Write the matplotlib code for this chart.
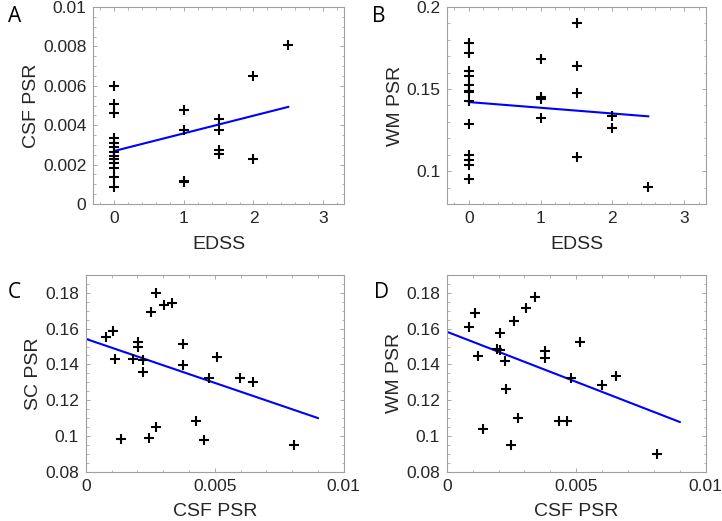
import matplotlib
matplotlib.use('Agg')
import matplotlib.pyplot as plt
from matplotlib.ticker import AutoMinorLocator, FuncFormatter

# panel A: CSF PSR vs EDSS
edss_a = [0]*13 + [1]*4 + [1.5]*4 + [2]*2 + [2.5]
csf_a = [0.0060, 0.0051, 0.00464, 0.00333, 0.00311, 0.00288, 0.00266, 0.00244,
         0.00227, 0.00207, 0.00184, 0.00139, 0.00085,
         0.00476, 0.00378, 0.00118, 0.00113,
         0.00432, 0.00378, 0.00274, 0.00253,
         0.0065, 0.00226,
         0.00806]
fit_a_x = [0, 2.5]
fit_a_y = [0.00269, 0.00493]

# panel B: WM PSR vs EDSS
edss_b = [0]*13 + [1]*4 + [1.5]*4 + [2]*2 + [2.5]
wm_b = [0.178, 0.172, 0.161, 0.158, 0.1526, 0.149, 0.1482, 0.1425,
        0.1288, 0.110, 0.107, 0.104, 0.095,
        0.1682, 0.1451, 0.1439, 0.1324,
        0.1904, 0.1641, 0.1476, 0.1089,
        0.1338, 0.1263,
        0.0903]
fit_b_x = [0, 2.5]
fit_b_y = [0.1421, 0.1334]

# panel C: SC PSR vs CSF PSR
csf_c = [0.00079, 0.00105, 0.00115, 0.00136, 0.00185, 0.00202, 0.00202, 0.00222,
         0.00222, 0.00244, 0.00252, 0.00271, 0.00271, 0.00304, 0.00335, 0.00379,
         0.00379, 0.00428, 0.00460, 0.00477, 0.00508, 0.00598, 0.00650, 0.00809]
sc_c = [0.1551, 0.1585, 0.1430, 0.0981, 0.1430, 0.1523, 0.1497, 0.1426,
        0.1359, 0.0987, 0.1695, 0.1802, 0.1052, 0.1731, 0.1744, 0.1516,
        0.1396, 0.1086, 0.0978, 0.1325, 0.1443, 0.1325, 0.1299, 0.0950]
fit_c_x = [0, 0.009]
fit_c_y = [0.1543, 0.1100]

# panel D: WM PSR vs CSF PSR
csf_d = [0.00085, 0.00111, 0.0012, 0.0014, 0.00193, 0.00206, 0.00206, 0.00226,
         0.0023, 0.00249, 0.00258, 0.00274, 0.00308, 0.00339, 0.00381, 0.00381,
         0.00433, 0.00464, 0.00481, 0.00513, 0.00599, 0.00655, 0.00811]
wm_d = [0.1607, 0.1685, 0.1449, 0.1040, 0.1484, 0.1577, 0.1480, 0.1419,
        0.1260, 0.0947, 0.1643, 0.1098, 0.1717, 0.1779, 0.1477, 0.1434,
        0.1081, 0.1081, 0.1322, 0.1523, 0.1286, 0.1335, 0.0899]
fit_d_x = [0, 0.009]
fit_d_y = [0.1583, 0.1078]

plt.rcParams['font.family'] = ['Liberation Sans', 'DejaVu Sans']

fig = plt.figure(figsize=(7.22, 5.21), dpi=100)

W, H = 722, 521
def add_ax(l, r, t, b):
    return fig.add_axes([l / W, 1 - b / H, (r - l) / W, (b - t) / H])

ax_a = add_ax(93.3, 344, 7, 204)
ax_b = add_ax(447.3, 705.7, 7, 204)
ax_c = add_ax(85.7, 343.7, 275, 471.7)
ax_d = add_ax(446.7, 705.7, 275, 471.7)

fmt = FuncFormatter(lambda v, p: ('%g' % round(v, 6)))

def style(ax, xlim, ylim, xticks, yticks, xlabel, ylabel):
    ax.set_xlim(xlim)
    ax.set_ylim(ylim)
    ax.set_xticks(xticks)
    ax.set_yticks(yticks)
    ax.xaxis.set_major_formatter(fmt)
    ax.yaxis.set_major_formatter(fmt)
    ax.xaxis.set_minor_locator(AutoMinorLocator())
    ax.yaxis.set_minor_locator(AutoMinorLocator())
    ax.tick_params(which='both', direction='in', top=True, right=True,
                   color='#999999', labelcolor='#262626', labelsize=12.5)
    ax.tick_params(which='major', length=3, width=0.6, pad=5)
    ax.tick_params(which='minor', length=1.8, width=0.5)
    for s in ax.spines.values():
        s.set_color('#a0a0a0')
        s.set_linewidth(0.8)
    ax.set_xlabel(xlabel, fontsize=14, color='#262626', labelpad=7)
    ax.set_ylabel(ylabel, fontsize=14, color='#262626', labelpad=2)

def draw(ax, x, y, fx, fy):
    ax.plot(fx, fy, color='#0000ff', lw=1.5, zorder=2)
    ax.plot(x, y, '+', color='black', ms=7.5, mew=1.5, zorder=3)

draw(ax_a, edss_a, csf_a, fit_a_x, fit_a_y)
style(ax_a, (-0.3, 3.3), (0, 0.01), [0, 1, 2, 3], [0, 0.002, 0.004, 0.006, 0.008, 0.01],
      'EDSS', 'CSF PSR')

draw(ax_b, edss_b, wm_b, fit_b_x, fit_b_y)
style(ax_b, (-0.3, 3.3), (0.08, 0.2), [0, 1, 2, 3], [0.1, 0.15, 0.2],
      'EDSS', 'WM PSR')

draw(ax_c, csf_c, sc_c, fit_c_x, fit_c_y)
style(ax_c, (0, 0.01), (0.08, 0.19), [0, 0.005, 0.01], [0.08, 0.1, 0.12, 0.14, 0.16, 0.18],
      'CSF PSR', 'SC PSR')

draw(ax_d, csf_d, wm_d, fit_d_x, fit_d_y)
style(ax_d, (0, 0.01), (0.08, 0.19), [0, 0.005, 0.01], [0.08, 0.1, 0.12, 0.14, 0.16, 0.18],
      'CSF PSR', 'WM PSR')

for letter, x, y in [('A', 8, 17), ('B', 372, 17), ('C', 8, 293), ('D', 374, 293)]:
    fig.text(x / W, 1 - y / H, letter, fontsize=15, family='Open Sans',
             ha='left', va='center', color='black')

fig.savefig('out.png', dpi=100)
